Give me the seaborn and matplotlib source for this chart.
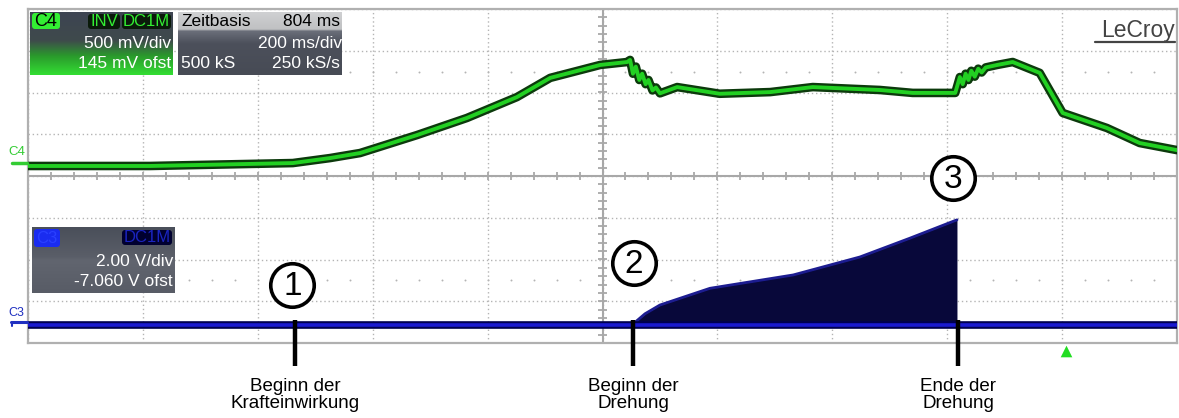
import numpy as np
import pandas as pd
import matplotlib
matplotlib.use("Agg")
import matplotlib.pyplot as plt
import seaborn as sns
from matplotlib.patches import FancyBboxPatch

# ---- data (time in ms, amplitude in divisions) ----
c4_t = [0, 212, 461, 526, 578, 677, 764, 851, 909, 996, 1043, 1048, 1053, 1058, 1064, 1069,
        1075, 1080, 1087, 1093, 1100, 1130, 1204, 1292, 1366, 1483, 1540, 1614, 1622, 1627,
        1632, 1637, 1642, 1648, 1654, 1660, 1667, 1687, 1714, 1761, 1801, 1878, 1935, 2000]
c4_v = [0.24, 0.24, 0.31, 0.43, 0.55, 0.98, 1.39, 1.89, 2.35, 2.66, 2.73, 2.78, 2.45, 2.62,
        2.30, 2.45, 2.20, 2.30, 2.05, 2.12, 1.98, 2.13, 1.97, 2.01, 2.13, 2.06, 1.99, 1.99,
        2.37, 2.20, 2.45, 2.30, 2.52, 2.38, 2.57, 2.48, 2.60, 2.66, 2.73, 2.47, 1.51, 1.15,
        0.79, 0.62]

c3_t = [0, 1051, 1074, 1100, 1187, 1332, 1448, 1535, 1617, 1617, 2000]
c3_v = [-3.57, -3.57, -3.30, -3.09, -2.69, -2.37, -1.94, -1.49, -1.05, -3.57, -3.57]

event_t = [465, 1053, 1619]
event_num = ["1", "2", "3"]
event_label = ["Beginn der\nKrafteinwirkung", "Beginn der\nDrehung", "Ende der\nDrehung"]
circle_t = [460, 1055, 1610]
circle_v = [-2.61, -2.08, -0.05]
trigger_t = 1807

c4_df = pd.DataFrame({"t": c4_t, "v": c4_v})
c3_df = pd.DataFrame({"t": c3_t, "v": c3_v})
c3_base = c3_df[c3_df["v"] <= -3.57]

sns.set_theme(style="white")
plt.rcParams["font.family"] = ["Liberation Sans", "DejaVu Sans"]

W, H = 1179, 418
fig = plt.figure(figsize=(W / 100, H / 100), dpi=100)
ax = fig.add_axes([28 / W, (H - 343) / H, (1177 - 28) / W, (343 - 9) / H])

# grid
ax.set_xticks(np.arange(0, 2001, 200))
ax.set_yticks(np.arange(-4, 5, 1))
ax.grid(True, color="#b4b4b4", linestyle=(0, (1, 2)), linewidth=1.0)
ax.tick_params(length=0, labelbottom=False, labelleft=False)
for s in ax.spines.values():
    s.set_color("#b0b0b0")
    s.set_linewidth(1.6)

# sub-division dot rows
dots_x = np.arange(0, 2001, 40)
for yy in (2.5, -2.5):
    ax.scatter(dots_x, np.full_like(dots_x, yy, dtype=float), s=2, color="#b4b4b4",
               linewidths=0, zorder=1)

# centre cross with ticks
ax.axhline(0, color="#a8a8a8", lw=1.5, zorder=1)
ax.axvline(1000, color="#a8a8a8", lw=1.5, zorder=1)
ax.vlines(np.arange(40, 2000, 40), -0.1, 0.1, color="#a8a8a8", lw=1.3, zorder=1)
ax.hlines(np.arange(-3.8, 4, 0.2), 993, 1007, color="#a8a8a8", lw=1.3, zorder=1)

# C4 trace
sns.lineplot(data=c4_df, x="t", y="v", ax=ax, color="#0c3a0c", lw=6.2, sort=False,
             estimator=None, zorder=3)
sns.lineplot(data=c4_df, x="t", y="v", ax=ax, color="#22d022", lw=2.8, sort=False,
             estimator=None, zorder=4)

# C3 trace: filled ramp + baseline band
ax.fill_between(c3_t[:9], -3.57, c3_v[:9], color="#08083a", lw=0, zorder=3)
sns.lineplot(data=c3_df.iloc[:9], x="t", y="v", ax=ax, color="#1c1c90", lw=2.0, sort=False,
             estimator=None, zorder=4)
ax.axhline(-3.57, color="#000050", lw=5.5, zorder=4)
ax.axhline(-3.57, color="#1a1ad0", lw=2.6, zorder=5)
ax.set_xlabel("")
ax.set_ylabel("")
ax.set_xlim(0, 2000)
ax.set_ylim(-4, 4)

# event markers
for t, n, lab, ct, cv in zip(event_t, event_num, event_label, circle_t, circle_v):
    ax.plot([t, t], [-3.45, -4.55], color="black", lw=3.2, clip_on=False, zorder=6,
            solid_capstyle="butt")
    ax.scatter([ct], [cv], s=980, facecolors="white", edgecolors="black", linewidths=2.6,
               zorder=7, clip_on=False)
    ax.text(ct, cv - 0.03, n, ha="center", va="center", fontsize=24, color="black", zorder=8)
    ax.text(t, -4.85, lab, ha="center", va="top", fontsize=13.5, color="black",
            linespacing=1.0, clip_on=False)

ax.scatter([trigger_t], [-4.2], marker="^", s=70, color="#22dd22", linewidths=0,
           clip_on=False, zorder=6)

# ---- overlay for the scope panels ----
ov = fig.add_axes([0, 0, 1, 1], zorder=10)
ov.patch.set_alpha(0)
ov.axis("off")


def grad(x0, x1, y0, y1, stops):
    pos = [p for p, _ in stops]
    cols = np.array([matplotlib.colors.to_rgb(c) for _, c in stops])
    yy = np.linspace(0, 1, 64)
    arr = np.stack([np.interp(yy, pos, cols[:, k]) for k in range(3)], axis=-1)
    ov.imshow(arr[:, None, :], extent=(x0, x1, y1, y0), origin="upper", aspect="auto",
              interpolation="bilinear", zorder=1)


def badge(x0, y0, w, h, fc, txt, tc, fs=12):
    ov.add_patch(FancyBboxPatch((x0, y0), w, h, boxstyle="round,pad=0,rounding_size=3",
                                fc=fc, ec="none", zorder=3))
    ov.text(x0 + w / 2, y0 + h / 2 + 0.5, txt, ha="center", va="center", fontsize=fs,
            color=tc, zorder=4)


# C4 panel
grad(30, 173, 12, 75, [(0, "#3d4452"), (0.45, "#3f4a4c"), (0.7, "#2a9a2c"), (1, "#33dd33")])
badge(32, 13, 28, 16, "#33ee33", "C4", "black", 13)
badge(88, 14, 32, 15, "#0a1a0a", "INV", "#33ee33", 12)
badge(122, 14, 49, 15, "#0a1a0a", "DC1M", "#33ee33", 12)
ov.text(171, 43, "500 mV/div", ha="right", va="center", fontsize=12.5, color="white", zorder=4)
ov.text(171, 63, "145 mV ofst", ha="right", va="center", fontsize=12.5, color="white", zorder=4)

# time base panel
grad(178, 342, 12, 75, [(0, "#cfd0d2"), (0.28, "#bfc0c2"), (0.29, "#6c707b"),
                        (0.5, "#4c505b"), (1, "#474b55")])
ov.text(181, 21, "Zeitbasis", ha="left", va="center", fontsize=12.5, color="black", zorder=4)
ov.text(340, 21, "804 ms", ha="right", va="center", fontsize=12.5, color="black", zorder=4)
ov.text(342, 43, "200 ms/div", ha="right", va="center", fontsize=12.5, color="white", zorder=4)
ov.text(181, 63, "500 kS", ha="left", va="center", fontsize=12.5, color="white", zorder=4)
ov.text(340, 63, "250 kS/s", ha="right", va="center", fontsize=12.5, color="white", zorder=4)

# C3 panel
grad(32, 175, 227, 293, [(0, "#4a4f5a"), (0.45, "#5a5e68"), (0.5, "#61656f"), (1, "#585c66")])
badge(34, 229, 26, 18, "#1a2cf0", "C3", "#2a40ff", 12)
badge(122, 230, 50, 15, "#000030", "DC1M", "#1a24c0", 12)
ov.text(173, 262, "2.00 V/div", ha="right", va="center", fontsize=12.5, color="white", zorder=4)
ov.text(173, 282, "-7.060 V ofst", ha="right", va="center", fontsize=12.5, color="white", zorder=4)

# channel markers on the left
ov.text(17, 152, "C4", ha="center", va="center", fontsize=9.5, color="#33cc33")
ov.plot([12, 27], [163, 163], color="#33cc33", lw=2.5)
ov.text(16, 313, "C3", ha="center", va="center", fontsize=9, color="#2030c0")
ov.plot([11, 27], [322, 322], color="#2030c0", lw=2.2)
ov.plot([12, 12], [322, 326], color="#2030c0", lw=1.5)

# brand
ov.text(1175, 30, "LeCroy", ha="right", va="center", fontsize=16.5, color="#444444", zorder=4)
ov.plot([1095, 1175], [42, 42], color="#444444", lw=1.6)

ov.set_xlim(0, W)
ov.set_ylim(H, 0)

fig.savefig("out.png", dpi=100)
